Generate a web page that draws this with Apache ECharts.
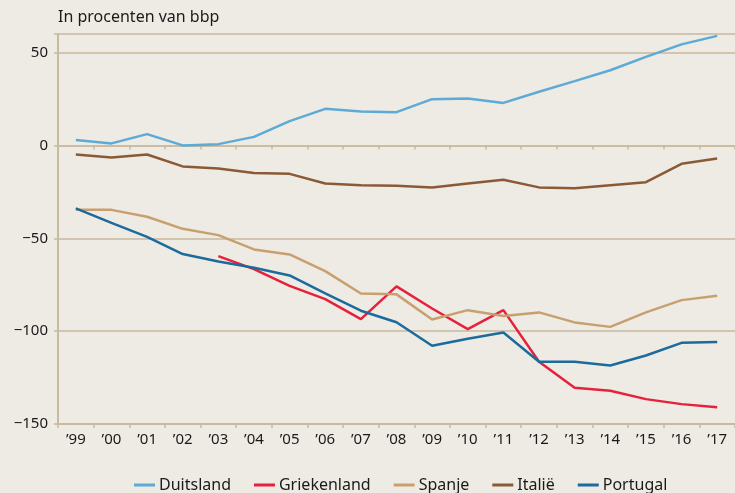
<!DOCTYPE html>
<html>
<head>
<meta charset="utf-8">
<script src="https://cdn.jsdelivr.net/npm/echarts@6/dist/echarts.min.js"></script>
<style>
  html, body { margin: 0; padding: 0; background: #EEEBE4; }
  #chart { width: 735px; height: 493px; }
</style>
</head>
<body>
<div id="chart"></div>
<script>
const years = ["’99", "’00", "’01", "’02", "’03", "’04", "’05", "’06", "’07", "’08", "’09", "’10", "’11", "’12", "’13", "’14", "’15", "’16", "’17"];

const duitsland = [2.9, 1.1, 6.1, 0, 0.7, 4.6, 13.1, 19.7, 18.3, 17.9, 24.9, 25.3, 22.9, 28.9, 34.6, 40.5, 47.7, 54.4, 59];
const griekenland = [null, null, null, null, -59.6, -66.6, -75.6, -82.8, -93.5, -75.9, -87.8, -98.9, -88.7, -116.5, -130.5, -132.1, -136.6, -139.3, -141];
const spanje = [-34.7, -34.7, -38.4, -44.9, -48.3, -56, -58.7, -67.7, -79.7, -80.2, -93.7, -88.7, -91.9, -89.9, -95.3, -97.7, -89.9, -83.3, -81];
const italie = [-4.9, -6.5, -4.9, -11.3, -12.4, -14.9, -15.3, -20.5, -21.4, -21.7, -22.6, -20.5, -18.5, -22.6, -23, -21.4, -19.8, -9.9, -7];
const portugal = [-33.9, -41.7, -49.2, -58.5, -62.5, -65.9, -70, -79.7, -89, -95.2, -107.9, -104.1, -100.7, -116.5, -116.5, -118.5, -113.1, -106.3, -105.9];

const yTicks = [-150, -100, -50, 0, 50];

const lineColor = "#C9B99E";
const font = "'Noto Sans', sans-serif";

const chart = echarts.init(document.getElementById("chart"));

function line(name, data, color) {
  return {
    name: name,
    type: "line",
    data: data,
    symbol: "none",
    connectNulls: false,
    lineStyle: { width: 2.5, color: color },
    itemStyle: { color: color },
  };
}

chart.setOption({
  backgroundColor: "#EEEBE4",
  animation: false,
  title: {
    text: "In procenten van bbp",
    left: 58,
    top: 9,
    padding: 0,
    textStyle: { fontFamily: font, fontSize: 16, fontWeight: "normal", color: "#1a1a1a" },
  },
  grid: { left: 58, right: -2, top: 34, bottom: 69 },
  legend: {
    top: 472,
    left: 129,
    icon: "rect",
    itemWidth: 21,
    itemHeight: 3,
    itemGap: 23,
    textStyle: { fontFamily: font, fontSize: 16, color: "#1a1a1a", padding: [0, 0, 0, -1] },
    data: ["Duitsland", "Griekenland", "Spanje", "Italië", "Portugal"],
  },
  xAxis: [
    {
      type: "category",
      data: years,
      boundaryGap: true,
      axisLine: { onZero: false, lineStyle: { color: lineColor, width: 2 } },
      axisTick: { show: true, length: 4, interval: 0, lineStyle: { color: lineColor, width: 1.5 } },
      axisLabel: { interval: 0, fontFamily: font, fontSize: 15, color: "#1a1a1a", margin: 8 },
      splitLine: { show: false },
    },
    {
      type: "category",
      data: years,
      position: "bottom",
      boundaryGap: true,
      axisLine: { onZero: true, show: true, lineStyle: { color: lineColor, width: 1.5 } },
      axisTick: { show: true, length: 4, interval: 0, lineStyle: { color: lineColor, width: 1.5 } },
      axisLabel: { show: false },
      splitLine: { show: false },
    },
  ],
  yAxis: {
    type: "value",
    min: -150,
    max: 60,
    interval: 50,
    axisLine: { show: true, lineStyle: { color: lineColor, width: 2 } },
    axisTick: { show: true, length: 4, lineStyle: { color: lineColor, width: 1.5 } },
    axisLabel: {
      fontFamily: font,
      fontSize: 15,
      color: "#1a1a1a",
      margin: 10,
      formatter: (v) => (yTicks.includes(v) ? String(v).replace("-", "\u2212") : ""),
    },
    splitLine: { show: true, lineStyle: { color: lineColor, width: 1.5 } },
  },
  series: [
    line("Duitsland", duitsland, "#5DAAD6"),
    line("Griekenland", griekenland, "#E5213B"),
    line("Spanje", spanje, "#C8A06F"),
    line("Italië", italie, "#8A5A36"),
    line("Portugal", portugal, "#1D6A9C"),
  ],
});
</script>
</body>
</html>
